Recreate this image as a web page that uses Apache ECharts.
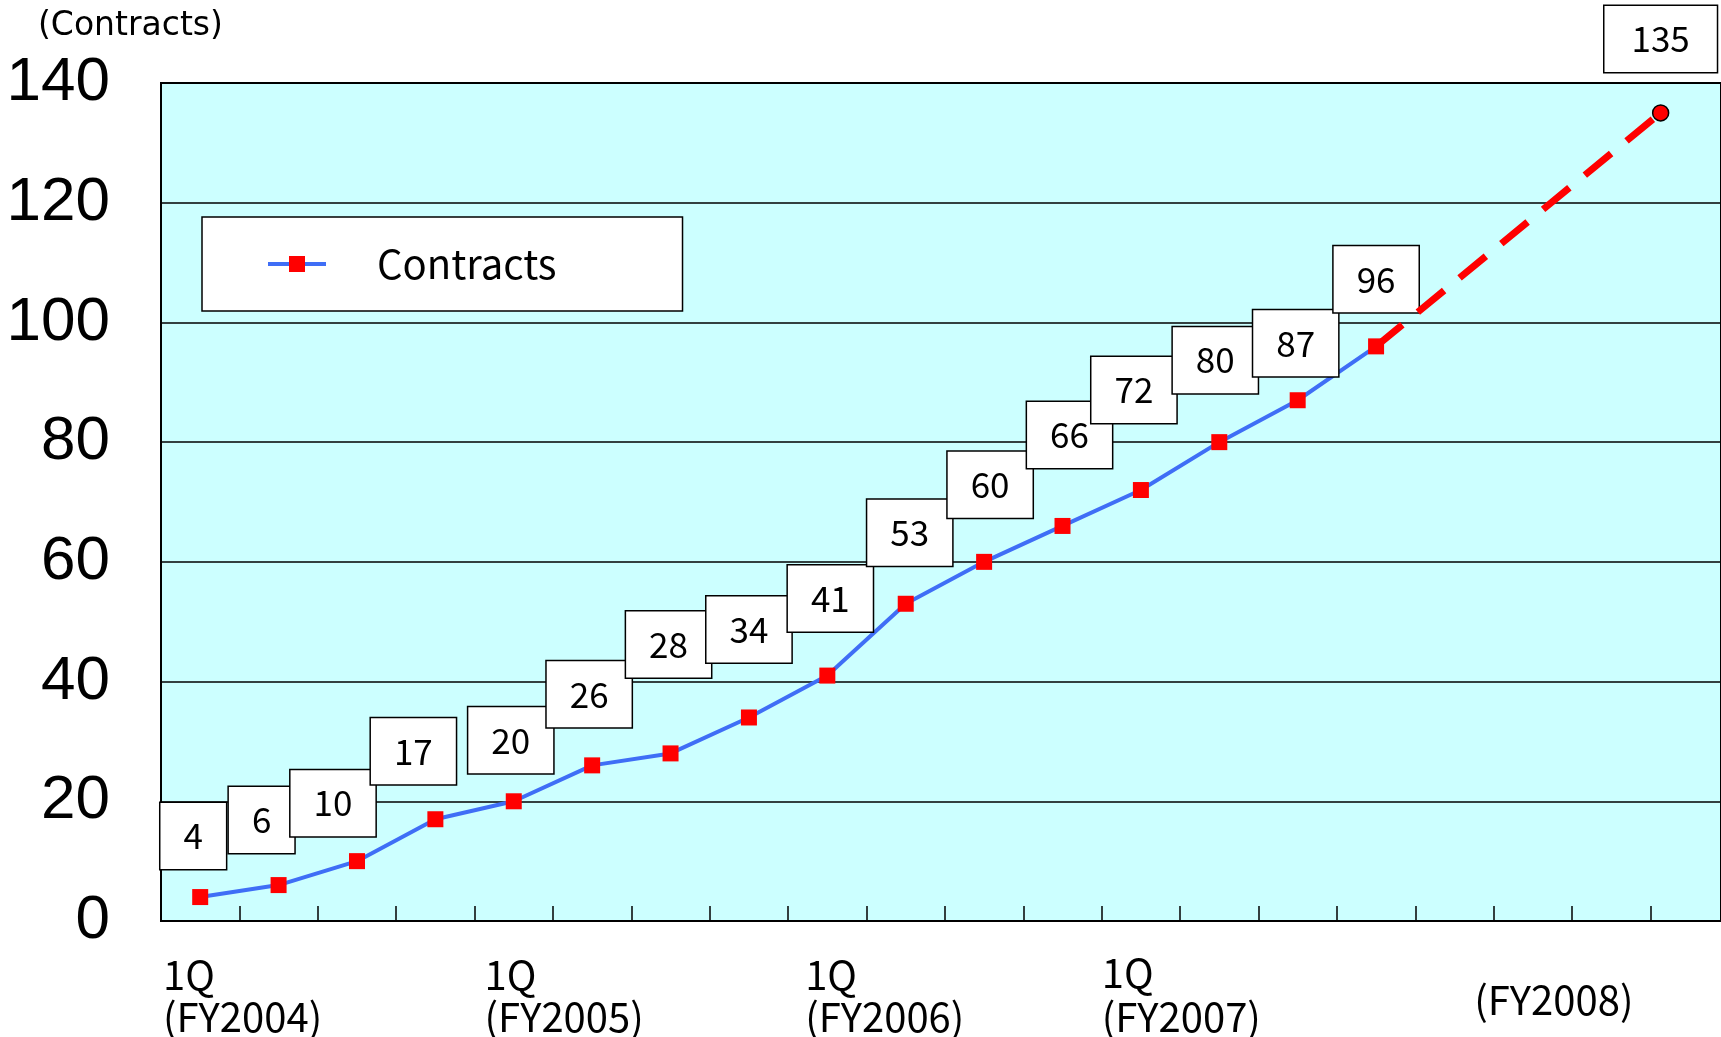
<!DOCTYPE html>
<html>
<head>
<meta charset="utf-8">
<script src="https://cdn.jsdelivr.net/npm/echarts@6/dist/echarts.min.js"></script>
<style>
html,body{margin:0;padding:0;background:#ffffff;}
#chart{width:1721px;height:1037px;}
</style>
</head>
<body>
<div id="chart"></div>
<script>
// ---------------- DATA ----------------
const quarters = [
  '1Q FY2004','2Q FY2004','3Q FY2004','4Q FY2004',
  '1Q FY2005','2Q FY2005','3Q FY2005','4Q FY2005',
  '1Q FY2006','2Q FY2006','3Q FY2006','4Q FY2006',
  '1Q FY2007','2Q FY2007','3Q FY2007','4Q FY2007',
  '1Q FY2008','2Q FY2008','3Q FY2008','4Q FY2008'
];
const contracts = [4, 6, 10, 17, 20, 26, 28, 34, 41, 53, 60, 66, 72, 80, 87, 96];
const projectionValue = 135;
const projectionQuarterPos = 19.13;   // position on the quarter scale
const yTicks = [0, 20, 40, 60, 80, 100, 120, 140];
const yearStartQuarter = [0, 4, 8, 12, 16];
const yearQLabel = ['1Q', '1Q', '1Q', '1Q', ''];
const yearFYLabel = ['(FY2004)', '(FY2005)', '(FY2006)', '(FY2007)', '(FY2008)'];
const seriesName = 'Contracts';
const unitLabel = '(Contracts)';

// ---------------- LAYOUT (label nudges, not data) ----------------
const LABEL_OFFSETS = [
  [-7,-61],[-17,-65],[-24,-58],[-22,-68],[-3,-61],[-3,-71],[-2,-109],[0,-88],
  [3,-77],[4,-71],[6,-77],[7,-91],[-7,-100],[-4,-82],[-2,-57],[0,-67]
];
const PROJ_LABEL_OFFSET = [0,-74];
const YEAR_LABEL_SHIFT = [[3,2],[3,10],[3,17],[0,0],[54,59]]; // [top, left]
const X_VISIBLE_MAX = 19.9;   // plot is cut at the right edge of the picture

const LABEL_FONT = "'Noto Sans CJK JP', 'Noto Sans', sans-serif";
const XLABEL_FONT = "'Liberation Sans Narrow', 'Noto Sans CJK JP', sans-serif";
const BLUE = '#3F6EF6';

const boxLabel = {
  show: true,
  position: 'inside',
  fontFamily: LABEL_FONT,
  fontSize: 35,
  lineHeight: 34,
  color: '#000',
  backgroundColor: '#fff',
  borderColor: '#000',
  borderWidth: 1.5,
  padding: [16, 23],
  formatter: p => String(p.value[1])
};

const actualData = contracts.map((v, i) => ({
  name: quarters[i],
  value: [i + 0.5, v],
  label: { offset: LABEL_OFFSETS[i] }
}));
const last = contracts.length - 1;
const projData = [
  { name: quarters[last], value: [last + 0.5, contracts[last]], symbol: 'none', label: { show: false } },
  { name: 'FY2008 projection', value: [projectionQuarterPos, projectionValue], label: { offset: PROJ_LABEL_OFFSET, padding: [16, 27] } }
];

// rich styles for the fiscal-year labels
const rich = {};
yearStartQuarter.forEach((q, k) => {
  rich['q' + k] = { fontFamily: XLABEL_FONT, fontSize: 40, lineHeight: 44, color: '#000',
                    padding: [YEAR_LABEL_SHIFT[k][0], 0, 0, YEAR_LABEL_SHIFT[k][1]] };
  rich['f' + k] = { fontFamily: XLABEL_FONT, fontSize: 40, lineHeight: 44, color: '#000',
                    padding: [0, 0, 0, YEAR_LABEL_SHIFT[k][1]] };
});

const chart = echarts.init(document.getElementById('chart'), null, { renderer: 'canvas' });
chart.setOption({
  animation: false,
  backgroundColor: '#ffffff',
  title: {
    text: unitLabel, left: 38, top: 10, padding: 0,
    textStyle: { fontFamily: "'DejaVu Sans', sans-serif", fontSize: 33, fontWeight: 'normal', color: '#000' }
  },
  legend: {
    data: [seriesName],
    left: 202, top: 217,
    backgroundColor: '#fff', borderColor: '#000', borderWidth: 1.5,
    padding: [27, 126, 27, 64],
    itemWidth: 58, itemHeight: 20,
    selectedMode: false,
    lineStyle: { width: 4, color: BLUE },
    textStyle: { fontFamily: LABEL_FONT, fontSize: 40, color: '#000', padding: [0, 0, 0, 46] }
  },
  grid: {
    left: 161, top: 83, right: 0, bottom: 115,
    show: true, backgroundColor: '#CCFFFF', borderColor: '#000', borderWidth: 2
  },
  xAxis: {
    type: 'value', min: 0, max: X_VISIBLE_MAX, interval: 1,
    axisLine: { show: true, lineStyle: { color: '#000', width: 2 } },
    axisTick: { show: true, inside: true, length: 15, lineStyle: { color: '#000', width: 1.5 } },
    splitLine: { show: false },
    axisLabel: {
      show: true, margin: 30, align: 'left', verticalAlign: 'top',
      showMinLabel: true, showMaxLabel: false,
      formatter: v => {
        const k = yearStartQuarter.indexOf(v);
        if (k < 0) return '';
        if (!yearQLabel[k]) return '{q' + k + '|' + yearFYLabel[k] + '}';
        return '{q' + k + '|' + yearQLabel[k] + '}\n{f' + k + '|' + yearFYLabel[k] + '}';
      },
      rich: rich
    }
  },
  yAxis: {
    type: 'value', min: yTicks[0], max: yTicks[yTicks.length - 1], interval: yTicks[1] - yTicks[0],
    axisLine: { show: true, lineStyle: { color: '#000', width: 2 } },
    axisTick: { show: false },
    splitLine: { show: true, lineStyle: { color: '#000', width: 1.5 } },
    axisLabel: { fontFamily: "'Liberation Sans', Arial, sans-serif", fontSize: 62, color: '#000', margin: 51, padding: [6, 0, 0, 0] }
  },
  series: [
    {
      name: seriesName,
      type: 'line',
      data: actualData,
      symbol: 'rect', symbolSize: 16,
      itemStyle: { color: '#FF0000' },
      lineStyle: { color: BLUE, width: 4 },
      label: boxLabel,
      z: 3
    },
    {
      name: 'Projection',
      type: 'line',
      data: projData,
      symbol: 'circle', symbolSize: 16,
      itemStyle: { color: '#FF0000', borderColor: '#000', borderWidth: 1.5 },
      lineStyle: { color: '#FF0000', width: 7, type: [34, 20] },
      label: boxLabel,
      z: 4
    }
  ]
});
</script>
</body>
</html>
